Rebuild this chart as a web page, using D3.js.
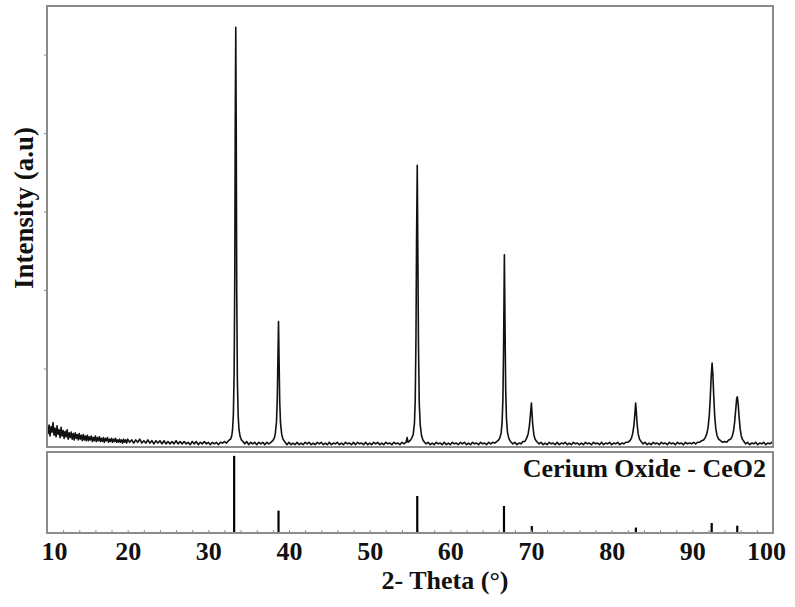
<!DOCTYPE html>
<html>
<head>
<meta charset="utf-8">
<script src="https://cdn.jsdelivr.net/npm/d3@7"></script>
<style>
  body { margin: 0; background: #fff; }
  text { font-family: "Liberation Serif", "Times New Roman", serif; font-weight: bold; fill: #111; }
</style>
</head>
<body>
<script>
// measured pattern: [2theta, intensity (a.u.)]
var scan = [
  [10.000,0.30],[10.125,0.17],[10.250,0.28],[10.375,0.14],[10.500,0.26],[10.625,0.19],[10.750,0.31],[10.875,0.15],
  [11.000,0.24],[11.125,0.13],[11.250,0.27],[11.375,0.16],[11.500,0.22],[11.625,0.12],[11.750,0.25],[11.875,0.14],
  [12.000,0.21],[12.125,0.11],[12.250,0.20],[12.375,0.13],[12.500,0.22],[12.625,0.10],[12.750,0.18],[12.875,0.12],
  [13.000,0.19],[13.125,0.10],[13.250,0.17],[13.375,0.09],[13.500,0.18],[13.625,0.11],[13.750,0.16],[13.875,0.09],
  [14.000,0.17],[14.125,0.10],[14.250,0.15],[14.375,0.08],[14.500,0.16],[14.625,0.09],[14.750,0.14],[14.875,0.08],
  [15.000,0.15],[15.125,0.08],[15.250,0.13],[15.375,0.09],[15.500,0.14],[15.625,0.07],[15.750,0.12],[15.875,0.08],
  [16.000,0.14],[16.125,0.07],[16.250,0.12],[16.375,0.08],[16.500,0.13],[16.625,0.07],[16.750,0.11],[16.875,0.07],
  [17.000,0.12],[17.125,0.06],[17.250,0.11],[17.375,0.08],[17.500,0.12],[17.625,0.06],[17.750,0.10],[17.875,0.07],
  [18.000,0.11],[18.125,0.06],[18.250,0.10],[18.375,0.07],[18.500,0.11],[18.625,0.06],[18.750,0.09],[18.875,0.06],
  [19.000,0.10],[19.125,0.06],[19.250,0.09],[19.375,0.05],[19.500,0.10],[19.625,0.06],[19.750,0.09],[19.875,0.05],
  [20.00,0.10],[20.25,0.06],[20.50,0.09],[20.75,0.05],[21.00,0.09],[21.25,0.06],[21.50,0.10],[21.75,0.05],
  [22.00,0.08],[22.25,0.05],[22.50,0.09],[22.75,0.05],[23.00,0.08],[23.25,0.04],[23.50,0.08],[23.75,0.05],
  [24.00,0.08],[24.25,0.04],[24.50,0.08],[24.75,0.04],[25.00,0.07],[25.25,0.04],[25.50,0.07],[25.75,0.04],
  [26.00,0.08],[26.25,0.04],[26.50,0.07],[26.75,0.04],[27.00,0.07],[27.25,0.04],[27.50,0.06],[27.75,0.03],
  [28.00,0.07],[28.25,0.04],[28.50,0.07],[28.75,0.03],[29.00,0.06],[29.25,0.04],[29.50,0.07],[29.75,0.04],
  [30.00,0.06],[30.25,0.03],[30.50,0.06],[30.75,0.04],[31.00,0.06],[31.25,0.03],[31.50,0.06],[31.75,0.05],
  [32.00,0.07],[32.25,0.05],[32.50,0.08],[32.75,0.10],
  [32.90,0.14],[33.00,0.22],[33.10,0.40],[33.20,0.95],[33.28,2.20],[33.34,4.20],[33.40,5.35],[33.46,4.00],
  [33.52,2.00],[33.60,0.85],[33.70,0.40],[33.80,0.22],[33.95,0.13],[34.10,0.09],[34.30,0.07],
  [34.50,0.04],[34.75,0.07],[35.00,0.03],[35.25,0.06],[35.50,0.04],[35.75,0.06],[36.00,0.03],[36.25,0.06],
  [36.50,0.04],[36.75,0.06],[37.00,0.03],[37.25,0.06],[37.50,0.04],[37.75,0.06],[38.00,0.08],[38.20,0.12],
  [38.30,0.17],[38.45,0.32],[38.55,0.62],[38.63,1.15],[38.70,1.60],[38.77,1.10],[38.85,0.58],[38.95,0.30],
  [39.10,0.16],[39.25,0.10],[39.45,0.07],
  [39.75,0.03],[40.00,0.06],[40.25,0.03],[40.50,0.05],[40.75,0.03],[41.00,0.06],[41.25,0.03],[41.50,0.05],
  [41.75,0.03],[42.00,0.06],[42.25,0.04],[42.50,0.06],[42.75,0.03],[43.00,0.05],[43.25,0.03],[43.50,0.06],
  [43.75,0.04],[44.00,0.06],[44.25,0.03],[44.50,0.05],[44.75,0.03],[45.00,0.06],[45.25,0.03],[45.50,0.05],
  [45.75,0.04],[46.00,0.06],[46.25,0.03],[46.50,0.05],[46.75,0.03],[47.00,0.06],[47.25,0.04],[47.50,0.05],
  [47.75,0.03],[48.00,0.06],[48.25,0.03],[48.50,0.06],[48.75,0.04],[49.00,0.05],[49.25,0.03],[49.50,0.06],
  [49.75,0.03],[50.00,0.05],[50.25,0.03],[50.50,0.06],[50.75,0.04],[51.00,0.06],[51.25,0.03],[51.50,0.05],
  [51.75,0.03],[52.00,0.06],[52.25,0.04],[52.50,0.05],[52.75,0.03],[53.00,0.06],[53.25,0.04],[53.50,0.05],
  [53.75,0.03],[54.00,0.06],[54.25,0.04],[54.50,0.06],[54.65,0.12],[54.75,0.06],[55.00,0.08],[55.20,0.11],
  [55.40,0.16],[55.55,0.30],[55.65,0.60],[55.74,1.40],[55.81,2.60],[55.90,3.59],[55.97,2.50],[56.05,1.30],
  [56.15,0.55],[56.27,0.28],[56.42,0.15],[56.60,0.09],[56.80,0.06],
  [57.00,0.04],[57.25,0.06],[57.50,0.03],[57.75,0.05],[58.00,0.03],[58.25,0.06],[58.50,0.04],[58.75,0.05],
  [59.00,0.03],[59.25,0.06],[59.50,0.03],[59.75,0.05],[60.00,0.03],[60.25,0.06],[60.50,0.04],[60.75,0.05],
  [61.00,0.03],[61.25,0.06],[61.50,0.04],[61.75,0.06],[62.00,0.03],[62.25,0.05],[62.50,0.03],[62.75,0.06],
  [63.00,0.04],[63.25,0.05],[63.50,0.03],[63.75,0.06],[64.00,0.04],[64.25,0.05],[64.50,0.03],[64.75,0.06],
  [65.00,0.04],[65.25,0.06],[65.50,0.05],[65.75,0.07],[66.00,0.09],[66.15,0.12],
  [66.30,0.18],[66.42,0.32],[66.52,0.62],[66.60,1.25],[66.70,2.45],[66.78,1.55],[66.86,0.75],[66.96,0.36],
  [67.08,0.19],[67.25,0.11],[67.45,0.07],
  [67.75,0.04],[68.00,0.06],[68.25,0.03],[68.50,0.05],[68.75,0.04],[69.00,0.07],[69.25,0.07],[69.45,0.11],
  [69.65,0.17],[69.80,0.27],[69.92,0.40],[70.05,0.56],[70.12,0.44],[70.22,0.28],[70.35,0.16],[70.50,0.10],
  [70.70,0.07],
  [71.00,0.04],[71.25,0.06],[71.50,0.03],[71.75,0.05],[72.00,0.03],[72.25,0.06],[72.50,0.04],[72.75,0.05],
  [73.00,0.03],[73.25,0.06],[73.50,0.03],[73.75,0.05],[74.00,0.04],[74.25,0.06],[74.50,0.03],[74.75,0.05],
  [75.00,0.03],[75.25,0.06],[75.50,0.04],[75.75,0.05],[76.00,0.03],[76.25,0.05],[76.50,0.03],[76.75,0.06],
  [77.00,0.04],[77.25,0.05],[77.50,0.03],[77.75,0.06],[78.00,0.04],[78.25,0.05],[78.50,0.03],[78.75,0.06],
  [79.00,0.03],[79.25,0.05],[79.50,0.04],[79.75,0.06],[80.00,0.03],[80.25,0.05],[80.50,0.04],[80.75,0.06],
  [81.00,0.03],[81.25,0.05],[81.50,0.04],[81.75,0.06],[82.00,0.06],[82.25,0.08],[82.45,0.11],
  [82.60,0.17],[82.75,0.27],[82.88,0.42],[82.97,0.56],[83.05,0.46],[83.15,0.30],[83.28,0.17],[83.45,0.10],
  [83.65,0.07],
  [83.90,0.04],[84.15,0.06],[84.40,0.03],[84.65,0.05],[84.90,0.03],[85.15,0.06],[85.40,0.04],[85.65,0.05],
  [85.90,0.03],[86.15,0.06],[86.40,0.04],[86.65,0.05],[86.90,0.03],[87.15,0.06],[87.40,0.04],[87.65,0.05],
  [87.90,0.03],[88.15,0.06],[88.40,0.04],[88.65,0.05],[88.90,0.03],[89.15,0.06],[89.40,0.04],[89.65,0.05],
  [89.90,0.04],[90.15,0.06],[90.40,0.04],[90.65,0.06],[90.90,0.06],[91.15,0.08],[91.40,0.09],[91.60,0.12],
  [91.80,0.17],[91.95,0.25],[92.10,0.40],[92.22,0.62],[92.33,0.88],[92.45,1.07],[92.55,0.92],[92.65,0.66],
  [92.77,0.40],[92.90,0.24],[93.05,0.15],[93.25,0.10],[93.50,0.08],[93.75,0.06],
  [94.00,0.07],[94.25,0.06],[94.50,0.09],[94.75,0.10],[94.95,0.14],
  [95.10,0.20],[95.25,0.32],[95.38,0.48],[95.50,0.62],[95.58,0.64],[95.68,0.55],[95.80,0.38],[95.92,0.24],
  [96.05,0.15],[96.20,0.10],[96.40,0.07],
  [96.60,0.04],[96.85,0.06],[97.10,0.03],[97.35,0.05],[97.60,0.04],[97.85,0.06],[98.10,0.03],[98.35,0.05],
  [98.60,0.04],[98.85,0.06],[99.10,0.03],[99.35,0.05],[99.60,0.04],[99.85,0.06],[100.0,0.04]
];

// reference card (stick pattern)
var refAngle = [33.2, 38.7, 55.9, 66.65, 70.1, 83.0, 92.4, 95.57];
var refIntensity = [100, 29, 48, 35, 9, 7, 13, 9.5];

var xTicks = [10, 20, 30, 40, 50, 60, 70, 80, 90, 100];
var xMinor = d3.range(10, 101, 2);
var yTicks = [1, 2, 3, 4, 5];

var width = 795, height = 607;
var left = 47, right = 773;
var topY0 = 6, topY1 = 447;     // upper panel
var botY0 = 452, botY1 = 533;   // lower panel
var frameColor = '#8c8c8c';

var x = d3.scaleLinear().domain([10, 100]).range([left, right]);
var y = d3.scaleLinear().domain([0, 5.62]).range([topY1, topY0]);
var yRef = d3.scaleLinear().domain([0, 105]).range([botY1, botY0]);

var svg = d3.select('body').append('svg')
    .attr('width', width)
    .attr('height', height);

// pattern line
var line = d3.line()
    .x(function (d) { return x(d[0]); })
    .y(function (d) { return y(d[1]); });
svg.append('path')
    .datum(scan)
    .attr('d', line)
    .attr('fill', 'none')
    .attr('stroke', '#111')
    .attr('stroke-width', 1.6)
    .attr('stroke-linejoin', 'round');

// sticks
svg.append('g').selectAll('line')
    .data(refAngle)
    .enter().append('line')
    .attr('x1', function (d) { return x(d); })
    .attr('x2', function (d) { return x(d); })
    .attr('y1', yRef(0))
    .attr('y2', function (d, i) { return yRef(refIntensity[i]); })
    .attr('stroke', '#000')
    .attr('stroke-width', 2.2);

// frames
svg.append('rect')
    .attr('x', left).attr('y', topY0)
    .attr('width', right - left).attr('height', topY1 - topY0)
    .attr('fill', 'none').attr('stroke', frameColor).attr('stroke-width', 2);
svg.append('rect')
    .attr('x', left).attr('y', botY0)
    .attr('width', right - left).attr('height', botY1 - botY0)
    .attr('fill', 'none').attr('stroke', frameColor).attr('stroke-width', 2);

// y ticks (no labels)
var yAxis = svg.append('g')
    .attr('transform', 'translate(' + left + ',0)')
    .call(d3.axisLeft(y).tickValues(yTicks).tickSize(3).tickFormat(''));
yAxis.select('.domain').remove();
yAxis.selectAll('line').attr('stroke', frameColor);

// x minor ticks, inside
var xMinorAxis = svg.append('g')
    .attr('transform', 'translate(0,' + botY1 + ')')
    .call(d3.axisBottom(x).tickValues(xMinor).tickSize(-3).tickFormat(''));
xMinorAxis.select('.domain').remove();
xMinorAxis.selectAll('line').attr('stroke', frameColor);

// x labels
var xAxis = svg.append('g')
    .attr('transform', 'translate(0,' + botY1 + ')')
    .call(d3.axisBottom(x).tickValues(xTicks).tickSize(0).tickPadding(9));
xAxis.select('.domain').remove();
xAxis.selectAll('text')
    .style('font-size', '26px')
    .attr('dx', function (d) { return d === 10 ? 7 : (d === 100 ? -7 : 0); });

// titles
svg.append('text')
    .attr('x', 445).attr('y', 589)
    .attr('text-anchor', 'middle')
    .style('font-size', '26px')
    .text('2- Theta (°)');

svg.append('text')
    .attr('transform', 'translate(33,208) rotate(-90)')
    .attr('text-anchor', 'middle')
    .style('font-size', '27px')
    .text('Intensity (a.u)');

svg.append('text')
    .attr('x', 766).attr('y', 477)
    .attr('text-anchor', 'end')
    .style('font-size', '26px')
    .text('Cerium Oxide - CeO2');
</script>
</body>
</html>
